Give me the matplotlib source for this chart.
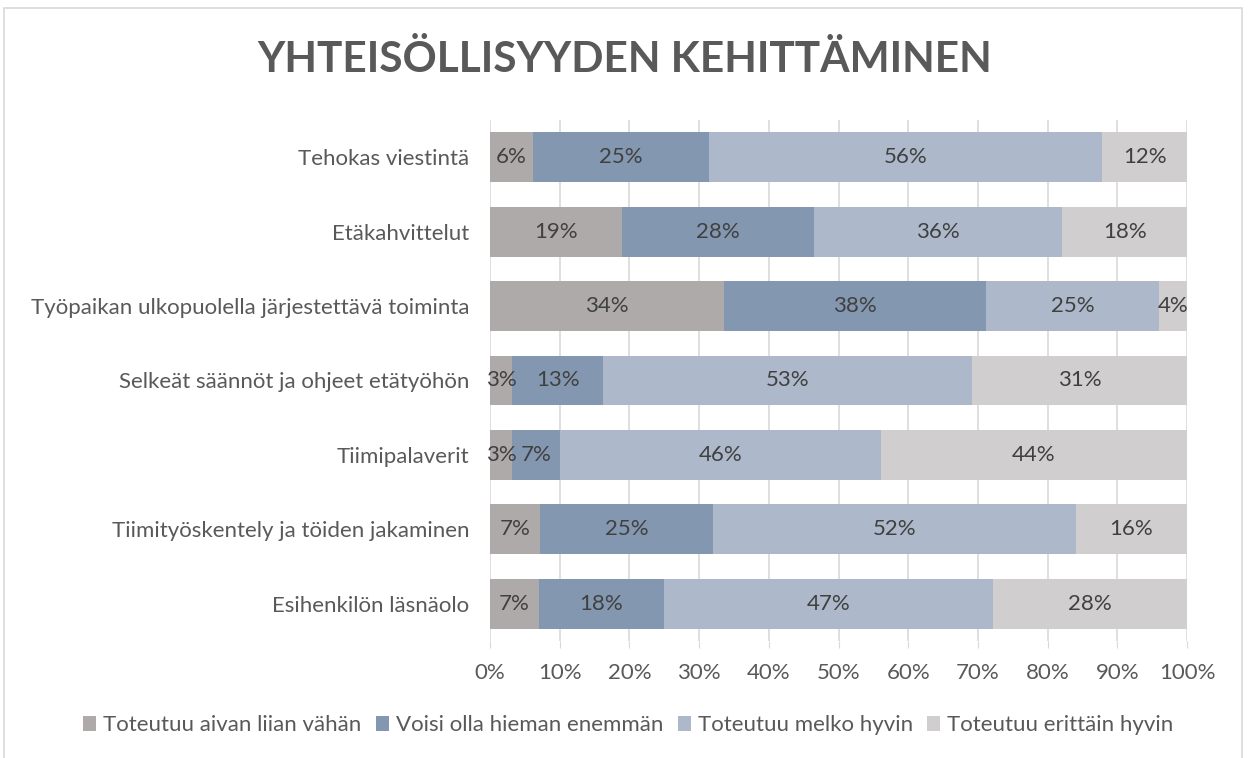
import matplotlib
matplotlib.use("Agg")
import matplotlib.pyplot as plt
from matplotlib.patches import Rectangle
import numpy as np

categories = ["Tehokas viestintä", "Etäkahvittelut",
              "Työpaikan ulkopuolella järjestettävä toiminta",
              "Selkeät säännöt ja ohjeet etätyöhön", "Tiimipalaverit",
              "Tiimityöskentely ja töiden jakaminen", "Esihenkilön läsnäolo"]
series_names = ["Toteutuu aivan liian vähän", "Voisi olla hieman enemmän",
                "Toteutuu melko hyvin", "Toteutuu erittäin hyvin"]
s1 = [6.2, 18.9, 33.6, 3.2, 3.2, 7.2, 7.0]
s2 = [25.2, 27.6, 37.6, 13.0, 6.8, 24.8, 18.0]
s3 = [56.4, 35.6, 24.8, 53.0, 46.1, 52.0, 47.1]
s4 = [12.2, 17.9, 4.0, 30.8, 43.9, 16.0, 27.9]
xticks = [0, 10, 20, 30, 40, 50, 60, 70, 80, 90, 100]
title = "YHTEISÖLLISYYDEN KEHITTÄMINEN"

colors = ["#AEAAAA", "#8497B0", "#ADB9CA", "#D0CECE"]
fam = ["Lato", "DejaVu Sans"]
plt.rcParams['font.family'] = fam

fig = plt.figure(figsize=(12.49, 7.58), dpi=100)
fig.patches.append(Rectangle((0.0035, -0.05), 0.9905, 1.04, transform=fig.transFigure,
                             fill=False, edgecolor="#D9D9D9", linewidth=1.2))
ax = fig.add_axes([0.3923, 0.1544, 0.5581, 0.6873])

fs = 16
y = np.arange(len(categories))
left = np.zeros(len(categories))
for vals, c, name in zip([s1, s2, s3, s4], colors, series_names):
    vals = np.array(vals)
    bars = ax.barh(y, vals, left=left, height=0.67, color=c, label=name, zorder=2)
    for b, v in zip(bars, vals):
        ax.text(b.get_x() + b.get_width() / 2, b.get_y() + b.get_height() / 2,
                f"{v:.0f}%", ha="center", va="center", fontsize=fs, color="#404040", zorder=3)
    left += vals

ax.set_xlim(0, 100)
ax.set_ylim(len(categories) - 0.5, -0.5)
ax.set_yticks(y)
ax.set_yticklabels(categories, fontsize=fs, color="#595959")
ax.set_xticks(xticks)
ax.set_xticklabels([f"{t}%" for t in xticks], fontsize=fs, color="#595959")
ax.tick_params(axis="y", length=0, pad=15)
ax.tick_params(axis="x", length=5, color="#D9D9D9", pad=11)
ax.grid(axis="x", color="#D9D9D9", linewidth=1.2, zorder=0)
for s in ["top", "right", "bottom", "left"]:
    ax.spines[s].set_visible(False)

fig.text(0.5, 0.921, title, ha="center", va="center", fontsize=30.5, fontweight="bold", color="#595959")

handles, labels = ax.get_legend_handles_labels()
fig.legend(handles, labels, loc="center", bbox_to_anchor=(0.503, 0.043), ncol=4, frameon=False,
           fontsize=fs, labelcolor="#595959", handlelength=0.6, handleheight=0.7,
           handletextpad=0.3, columnspacing=0.65)

fig.savefig("out.png", dpi=100)
